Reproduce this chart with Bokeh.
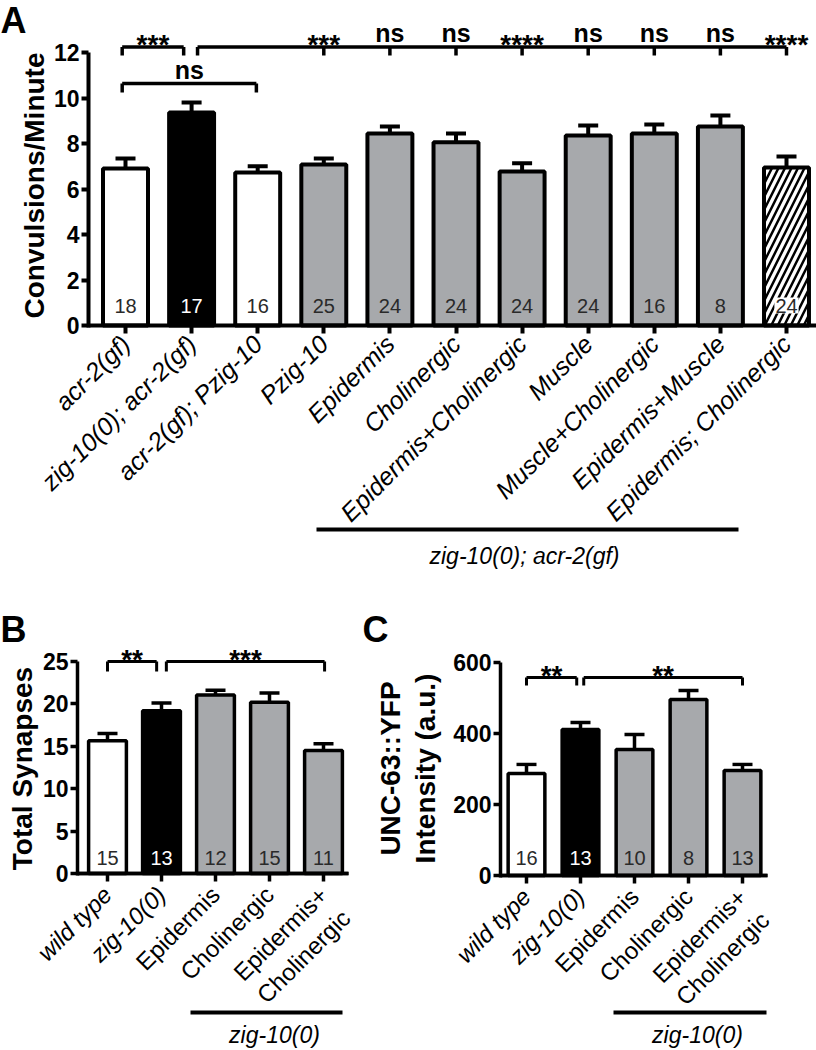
import math
from bokeh.plotting import figure
from bokeh.models import LinearAxis, FixedTicker, Range1d, AllLabels, ColumnDataSource
from bokeh.layouts import column, row
from bokeh.embed import file_html
from bokeh.resources import INLINE
from bokeh.core.properties import value

FONT = "Liberation Sans"
GRAY = "#a7a9ac"
NCOL = "#2a2a2a"

# ---------------- data: panel A ----------------
A_LABELS = ["acr-2(gf)", "zig-10(0); acr-2(gf)", "acr-2(gf); Pzig-10", "Pzig-10",
            "Epidermis", "Cholinergic", "Epidermis+Cholinergic", "Muscle",
            "Muscle+Cholinergic", "Epidermis+Muscle", "Epidermis; Cholinergic"]
A_MEANS = [6.90, 9.36, 6.72, 7.08, 8.44, 8.05, 6.77, 8.35, 8.44, 8.75, 6.95]
A_SEM = [0.44, 0.44, 0.28, 0.26, 0.31, 0.39, 0.36, 0.44, 0.40, 0.48, 0.48]
A_N = [18, 17, 16, 25, 24, 24, 24, 24, 16, 8, 24]
A_KIND = ["open", "null", "open", "rescue", "rescue", "rescue", "rescue",
          "rescue", "rescue", "rescue", "hatch"]
A_YTICKS = [0, 2, 4, 6, 8, 10, 12]
A_YLABEL = "Convulsions/Minute"
A_GROUP = "zig-10(0); acr-2(gf)"
A_SIG_FIRST = "***"          # acr-2(gf) vs zig-10(0); acr-2(gf)
A_SIG_CTRL = "ns"            # acr-2(gf) vs acr-2(gf); Pzig-10
A_SIG_REST_IDX = [3, 4, 5, 6, 7, 8, 9, 10]
A_SIG_REST = ["***", "ns", "ns", "****", "ns", "ns", "ns", "****"]

# ---------------- data: panels B and C ----------------
BC_LABELS = ["wild type", "zig-10(0)", "Epidermis", "Cholinergic", "Epidermis+\nCholinergic"]
BC_ITALIC = [True, True, False, False, False]
BC_KIND = ["open", "null", "rescue", "rescue", "rescue"]
BC_GROUP = "zig-10(0)"

B_MEANS = [15.65, 19.2, 21.05, 20.2, 14.5]
B_SEM = [0.85, 0.9, 0.55, 1.1, 0.8]
B_N = [15, 13, 12, 15, 11]
B_YTICKS = [0, 5, 10, 15, 20, 25]
B_YLABEL = ["Total Synapses"]
B_SIG = ["**", "***"]

C_MEANS = [287, 411, 355, 496, 296]
C_SEM = [26, 20, 42, 25, 17]
C_N = [16, 13, 10, 8, 13]
C_YTICKS = [0, 200, 400, 600]
C_YLABEL = ["UNC-63::YFP", "Intensity (a.u.)"]
C_SIG = ["**", "**"]

FILL = {"open": "white", "null": "black", "rescue": GRAY, "hatch": "white"}
NTXT = {"open": NCOL, "null": "white", "rescue": NCOL, "hatch": NCOL}


class Geo:
    """maps page-pixel layout to data units for one panel"""
    def __init__(self, left, top, right, bottom, cx0, dx, y0, ppu):
        self.left, self.top, self.right, self.bottom = left, top, right, bottom
        self.cx0, self.dx, self.y0, self.ppu = cx0, dx, y0, ppu

    def X(self, rx):
        return (rx - self.cx0) / self.dx

    def Y(self, ry):
        return (self.y0 - ry) / self.ppu

    def px(self, n):
        return n / self.dx

    def py(self, n):
        return n / self.ppu


def make_fig(g):
    p = figure(width=g.right - g.left, height=g.bottom - g.top,
               x_range=Range1d(g.X(g.left), g.X(g.right)),
               y_range=Range1d(g.Y(g.bottom), g.Y(g.top)),
               output_backend="svg", toolbar_location=None, min_border=0,
               x_axis_type=None, y_axis_type=None)
    p.outline_line_color = None
    p.background_fill_color = "white"
    p.border_fill_color = "white"
    return p


def y_axis(p, g, loc_rx, ticks, tick_size, lw):
    ax = LinearAxis(fixed_location=g.X(loc_rx), bounds=(ticks[0] - g.py(2), ticks[-1]),
                    ticker=FixedTicker(ticks=ticks, minor_ticks=[]),
                    major_label_text_font=FONT, major_label_text_font_size=tick_size,
                    major_label_text_font_style="bold", major_label_text_color="black",
                    major_label_standoff=2, major_label_policy=AllLabels(),
                    axis_line_color="black", axis_line_width=lw,
                    major_tick_line_color="black", major_tick_line_width=lw,
                    major_tick_in=0, major_tick_out=7, minor_tick_in=0, minor_tick_out=0)
    p.add_layout(ax, "left")


def y_title(p, g, lines, xs_ref, yc_ref, size="28px"):
    p.text(x=[g.X(x) for x in xs_ref], y=[g.Y(yc_ref)] * len(lines), text=lines,
           angle=math.pi / 2, text_font=value(FONT), text_font_size=size,
           text_font_style="bold", text_color="black", text_align="center",
           text_baseline="middle")


def x_axis(p, g, ticks, labels, italic, bounds, size, lw, standoff, draw_line=True):
    ax = LinearAxis(fixed_location=0, bounds=bounds,
                    ticker=FixedTicker(ticks=ticks, minor_ticks=[]),
                    major_label_overrides={t: l for t, l in zip(ticks, labels)},
                    major_label_orientation=math.pi / 4,
                    major_label_text_font=FONT, major_label_text_font_size=size,
                    major_label_text_font_style="italic" if italic else "normal",
                    major_label_text_color="black", major_label_standoff=standoff,
                    major_label_policy=AllLabels(),
                    axis_line_color="black" if draw_line else None, axis_line_width=lw,
                    major_tick_line_color="black" if draw_line else None,
                    major_tick_line_width=lw,
                    major_tick_in=0, major_tick_out=8, minor_tick_in=0, minor_tick_out=0)
    p.add_layout(ax, "below")


def bc_x_axes(p, g, bounds):
    idx = list(range(len(BC_LABELS)))
    multi = [i for i in idx if "\n" in BC_LABELS[i]]
    it = [i for i in idx if BC_ITALIC[i]]
    up = [i for i in idx if not BC_ITALIC[i]]
    x_axis(p, g, it, [BC_LABELS[i] for i in it], True, bounds, "24px", 3.5, 9)
    x_axis(p, g, up, ["" if i in multi else BC_LABELS[i] for i in up], False,
           bounds, "24px", 3.5, 9)
    # two-line label: first line sits where a single line would (as in the figure)
    shift = g.px(11)
    x_axis(p, g, [i + shift for i in multi], [BC_LABELS[i] for i in multi], False,
           bounds, "24px", 3.5, 21, draw_line=False)


def draw_bars(p, g, means, sem, ns, kinds, bar_w, lw, cap_px, n_px, n_size):
    xs = list(range(len(means)))
    src = ColumnDataSource(dict(
        x=xs, top=means,
        fill=[FILL[k] for k in kinds],
        hatch=["/" if k == "hatch" else " " for k in kinds]))
    p.vbar(x="x", top="top", bottom=0, width=bar_w, source=src, fill_color="fill",
           line_color="black", line_width=lw, hatch_pattern="hatch",
           hatch_color="black", hatch_weight=2.5, hatch_scale=13)
    errs = [m + s for m, s in zip(means, sem)]
    p.segment(x0=xs, y0=means, x1=xs, y1=errs, line_color="black", line_width=lw)
    cw = g.px(cap_px)
    p.segment(x0=[x - cw for x in xs], y0=errs, x1=[x + cw for x in xs], y1=errs,
              line_color="black", line_width=lw)
    ny = g.py(n_px)
    plain = [i for i, k in enumerate(kinds) if k != "hatch"]
    p.text(x=[xs[i] for i in plain], y=[ny] * len(plain), text=[str(ns[i]) for i in plain],
           text_color=[NTXT[kinds[i]] for i in plain], text_font=value(FONT),
           text_font_size=n_size, text_align="center", text_baseline="middle")
    hat = [i for i, k in enumerate(kinds) if k == "hatch"]
    if hat:
        p.text(x=[xs[i] for i in hat], y=[ny] * len(hat), text=[str(ns[i]) for i in hat],
               text_color=NCOL, text_font=value(FONT), text_font_size=n_size,
               text_align="center", text_baseline="middle",
               background_fill_color="white", padding=1)


def bracket(p, g, x_left, x_right, y, drop_px, ticks_at, lw):
    d = g.py(drop_px)
    xs0 = [x_left] + list(ticks_at)
    ys0 = [y] * len(xs0)
    xs1 = [x_right] + list(ticks_at)
    ys1 = [y] + [y - d] * len(ticks_at)
    p.segment(x0=xs0, y0=ys0, x1=xs1, y1=ys1, line_color="black", line_width=lw)


def sig_text(p, g, xs, labels, y_br, star_up=3, ns_up=14, star_size="28px", ns_size="25px"):
    st = [(x, l) for x, l in zip(xs, labels) if l.startswith("*")]
    nt = [(x, l) for x, l in zip(xs, labels) if not l.startswith("*")]
    if st:
        p.text(x=[a for a, _ in st], y=[y_br + g.py(star_up)] * len(st), text=[b for _, b in st],
               text_font=value(FONT), text_font_size=star_size, text_font_style="bold",
               text_color="black", text_align="center", text_baseline="middle")
    if nt:
        p.text(x=[a for a, _ in nt], y=[y_br + g.py(ns_up)] * len(nt), text=[b for _, b in nt],
               text_font=value(FONT), text_font_size=ns_size, text_font_style="bold",
               text_color="black", text_align="center", text_baseline="middle")


def panel_letter(p, g, rx, ry, letter):
    p.text(x=[g.X(rx)], y=[g.Y(ry)], text=[letter], text_font=value(FONT),
           text_font_size="36px", text_font_style="bold", text_color="black",
           text_align="left", text_baseline="middle")


def group_rule(p, g, rx0, rx1, ry, text, tx, ty, size):
    p.segment(x0=[g.X(rx0)], y0=[g.Y(ry)], x1=[g.X(rx1)], y1=[g.Y(ry)],
              line_color="black", line_width=4)
    p.text(x=[g.X(tx)], y=[g.Y(ty)], text=[text], text_font=value(FONT),
           text_font_size=size, text_font_style="italic", text_color="black",
           text_align="center", text_baseline="middle")


# ================= Panel A =================
gA = Geo(0, 0, 816, 600, cx0=125, dx=66.1, y0=325, ppu=22.75)
pA = make_fig(gA)
xa = list(range(len(A_LABELS)))
draw_bars(pA, gA, A_MEANS, A_SEM, A_N, A_KIND, 0.68, 4, 10, 20, "20px")
y_axis(pA, gA, 88, A_YTICKS, "23px", 4)
y_title(pA, gA, [A_YLABEL], [34], 185)
x_axis(pA, gA, xa, A_LABELS, True, (gA.X(88), gA.X(816)), "25px", 4, 6)
yb = gA.Y(46.5)
bracket(pA, gA, 0 - 0.05, 1 - 0.12, yb, 8.5, [0 - 0.05, 1 - 0.12], 3.5)
sig_text(pA, gA, [(0 - 0.05 + 1 - 0.12) / 2], [A_SIG_FIRST], yb)
bracket(pA, gA, 1 + 0.09, A_SIG_REST_IDX[-1], yb, 8.5, [1 + 0.09] + A_SIG_REST_IDX, 3.5)
sig_text(pA, gA, A_SIG_REST_IDX, A_SIG_REST, yb)
yc = gA.Y(83)
bracket(pA, gA, 0 - 0.05, 2 - 0.02, yc, 9, [0 - 0.05, 2 - 0.02], 3.5)
sig_text(pA, gA, [(0 - 0.05 + 2 - 0.02) / 2], [A_SIG_CTRL], yc)
panel_letter(pA, gA, 0, 20, "A")
group_rule(pA, gA, 316, 738, 529, A_GROUP, 524, 555, "23px")

# ================= Panel B =================
gB = Geo(0, 600, 358, 1048, cx0=107, dx=54, y0=873, ppu=8.48)
pB = make_fig(gB)
draw_bars(pB, gB, B_MEANS, B_SEM, B_N, BC_KIND, 0.70, 3.5, 10, 16, "20px")
y_axis(pB, gB, 77, B_YTICKS, "23px", 3.5)
y_title(pB, gB, B_YLABEL, [22], 768)
bc_x_axes(pB, gB, (gB.X(77), gB.X(348)))
ybB = gB.Y(661)
bracket(pB, gB, 0, 1 - 0.09, ybB, 10, [0, 1 - 0.09], 3)
bracket(pB, gB, 1 + 0.09, 4 + 0.02, ybB, 10, [1 + 0.09, 4 + 0.02], 3)
sig_text(pB, gB, [(0 + 1 - 0.09) / 2, (1 + 0.09 + 4 + 0.02) / 2], B_SIG, ybB, star_up=2)
panel_letter(pB, gB, 0, 629, "B")
group_rule(pB, gB, 190, 342, 1012, BC_GROUP, 274, 1034, "23px")

# ================= Panel C =================
gC = Geo(358, 600, 816, 1048, cx0=526, dx=54, y0=875, ppu=0.355)
pC = make_fig(gC)
draw_bars(pC, gC, C_MEANS, C_SEM, C_N, BC_KIND, 0.68, 3.5, 10, 18, "20px")
y_axis(pC, gC, 500, C_YTICKS, "23px", 3.5)
y_title(pC, gC, C_YLABEL, [390, 425], 768)
bc_x_axes(pC, gC, (gC.X(500), gC.X(767)))
ybC = gC.Y(677)
bracket(pC, gC, 0, 1 - 0.07, ybC, 8, [0, 1 - 0.07], 3)
bracket(pC, gC, 1 + 0.06, 4, ybC, 8, [1 + 0.06, 4], 3)
sig_text(pC, gC, [(0 + 1 - 0.07) / 2, (1 + 0.06 + 4) / 2], C_SIG, ybC, star_up=2)
panel_letter(pC, gC, 362, 629, "C")
group_rule(pC, gC, 613, 766, 1012, BC_GROUP, 697, 1034, "23px")

layout = column(pA, row(pB, pC))
open("out.html", "w").write(file_html(layout, INLINE))
